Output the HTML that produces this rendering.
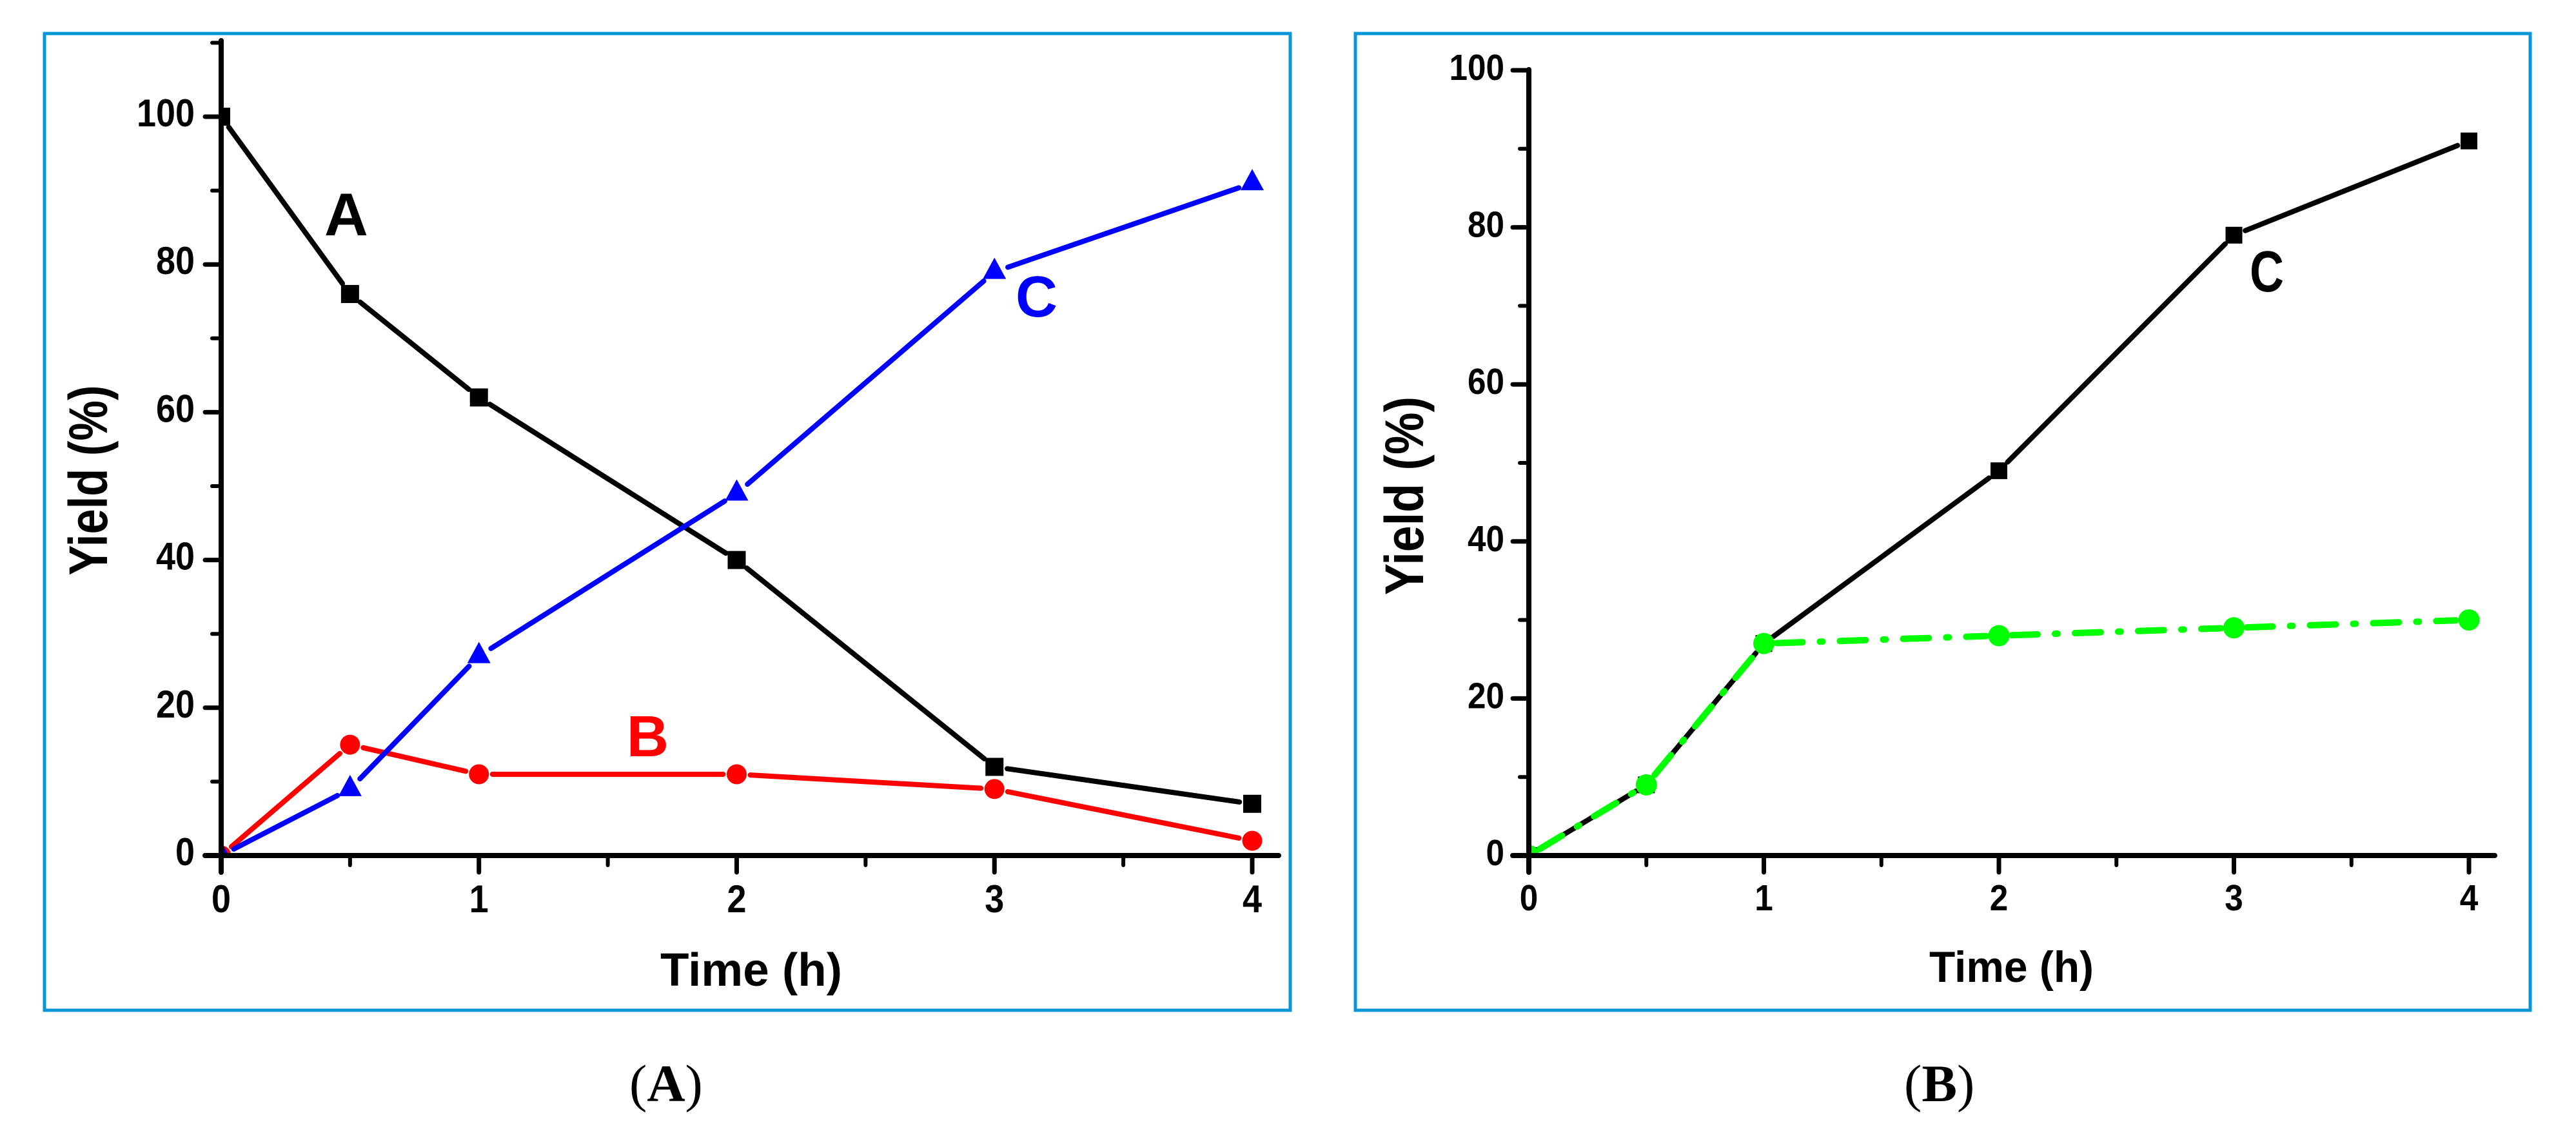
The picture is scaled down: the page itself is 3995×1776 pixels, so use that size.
<!DOCTYPE html>
<html lang="en">
<head>
<meta charset="utf-8">
<title>Yield versus time charts</title>
<style>
  html, body { margin: 0; padding: 0; background: #ffffff; }
  body { width: 3995px; height: 1776px; overflow: hidden; }
  svg { display: block; }
  text { font-family: "Liberation Sans", Arial, sans-serif; }
  .caption { font-family: "Liberation Serif", "Times New Roman", serif; font-size: 82px; fill: #000; }
</style>
</head>
<body>
<svg id="figure" xmlns="http://www.w3.org/2000/svg" width="3995" height="1776" viewBox="0 0 3995 1776">
  <rect x="0" y="0" width="3995" height="1776" fill="#ffffff"/>

  <g id="panel-a">
    <rect x="69" y="52" width="1932" height="1515" fill="#ffffff" stroke="#0896d6" stroke-width="5"/>
    <text transform="translate(166 745) rotate(-90)" text-anchor="middle" font-size="84" font-weight="700" textLength="295" lengthAdjust="spacingAndGlyphs" fill="#000">Yield (%)</text>
    <text x="1024" y="1529" font-size="72" font-weight="700" textLength="282" lengthAdjust="spacingAndGlyphs" fill="#000">Time (h)</text>
    <text x="503" y="365" font-size="94" font-weight="700" fill="#000000">A</text>
    <text x="972" y="1173" font-size="90" font-weight="700" fill="#ff0000">B</text>
    <text x="1575" y="491" font-size="90" font-weight="700" fill="#0000ff">C</text>
    <text class="caption" x="976" y="1708">(<tspan font-weight="700">A</tspan>)</text>
  </g>

  <g id="panel-b">
    <rect x="2102" y="52" width="1822" height="1515" fill="#ffffff" stroke="#0896d6" stroke-width="5"/>
    <text transform="translate(2207 769) rotate(-90)" text-anchor="middle" font-size="84" font-weight="700" textLength="308" lengthAdjust="spacingAndGlyphs" fill="#000">Yield (%)</text>
    <text x="2992" y="1523" font-size="68" font-weight="700" textLength="255" lengthAdjust="spacingAndGlyphs" fill="#000">Time (h)</text>
    <text x="3489" y="452" font-size="90" font-weight="700" textLength="53" lengthAdjust="spacingAndGlyphs" fill="#000000">C</text>
    <text class="caption" x="2953" y="1708">(<tspan font-weight="700">B</tspan>)</text>
  </g>
</svg>

<script>
// Chart data
const times = [0, 0.5, 1, 2, 3, 4];
const panelASeriesA = [100, 76, 62, 40, 12, 7];
const panelASeriesB = [0, 15, 11, 11, 9, 2];
const panelASeriesC = [0, 9, 27, 49, 79, 91];
const panelBSeriesC = [0, 9, 27, 49, 79, 91];
const panelBSeriesGreen = [0, 9, 27, 28, 29, 30];
const xMajorTicks = [0, 1, 2, 3, 4];
const xMinorTicks = [0.5, 1.5, 2.5, 3.5];
const yMajorTicks = [0, 20, 40, 60, 80, 100];
const panelAYMinorTicks = [10, 30, 50, 70, 90, 110];
const panelBYMinorTicks = [10, 30, 50, 70, 90];

const SVG_NS = 'http://www.w3.org/2000/svg';

function svgEl(tag, attrs, parent) {
  const el = document.createElementNS(SVG_NS, tag);
  Object.keys(attrs).forEach(function (k) { el.setAttribute(k, attrs[k]); });
  parent.appendChild(el);
  return el;
}

function makeAxisFns(left, unitX, zeroY, unitY) {
  return {
    x: function (v) { return left + v * unitX; },
    y: function (v) { return zeroY - v * unitY; }
  };
}

function drawSeries(parent, name, xs, ys, scale, opts) {
  const group = svgEl('g', {}, parent);
  
  
  const gap = opts.gap;
  for (let i = 0; i < xs.length - 1; i++) {
    const x1 = scale.x(xs[i]), y1 = scale.y(ys[i]);
    const x2 = scale.x(xs[i + 1]), y2 = scale.y(ys[i + 1]);
    const len = Math.hypot(x2 - x1, y2 - y1);
    const ux = (x2 - x1) / len, uy = (y2 - y1) / len;
    const attrs = {
      x1: x1 + ux * gap, y1: y1 + uy * gap,
      x2: x2 - ux * gap, y2: y2 - uy * gap,
      stroke: opts.color, 'stroke-width': opts.width, 'stroke-linecap': 'round', fill: 'none'
    };
    if (opts.dash) { attrs['stroke-dasharray'] = opts.dash; }
    const seg = svgEl('line', attrs, group);
    
    
  }
  for (let i = 0; i < xs.length; i++) {
    const cx = scale.x(xs[i]), cy = scale.y(ys[i]);
    const s = opts.size;
    let mark;
    if (opts.marker === 'square') {
      mark = svgEl('rect', { x: cx - s / 2, y: cy - s / 2, width: s, height: s, fill: opts.color }, group);
    } else if (opts.marker === 'circle') {
      mark = svgEl('circle', { cx: cx, cy: cy, r: s / 2, fill: opts.color }, group);
    } else {
      const pts = [[cx, cy - 22], [cx + 18, cy + 11], [cx - 18, cy + 11]].map(function (p) { return p.join(','); }).join(' ');
      mark = svgEl('polygon', { points: pts, fill: opts.color }, group);
    }
    
    
  }
}

function drawAxes(parent, prefix, scale, a) {
  const axisStyle = { stroke: '#000', 'stroke-linecap': 'round' };
  const yLine = svgEl('line', Object.assign({ x1: scale.x(0), x2: scale.x(0), y1: a.yTop, y2: a.tickBottom, 'stroke-width': 8 }, axisStyle), parent);
  
  
  const xLine = svgEl('line', Object.assign({ x1: scale.x(0) - 25, x2: a.xEnd, y1: scale.y(0), y2: scale.y(0), 'stroke-width': 8 }, axisStyle), parent);
  
  

  xMajorTicks.forEach(function (v) {
    const t = svgEl('line', Object.assign({ x1: scale.x(v), x2: scale.x(v), y1: scale.y(0), y2: a.tickBottom, 'stroke-width': 7 }, axisStyle), parent);
    
    
    const lbl = svgEl('text', { x: scale.x(v), y: a.xLabelY, 'text-anchor': 'middle', 'font-size': a.fontSize, 'font-weight': 700, fill: '#000', textLength: a.charWidth, lengthAdjust: 'spacingAndGlyphs' }, parent);
    lbl.textContent = String(v);
    
    
  });
  xMinorTicks.forEach(function (v) {
    const t = svgEl('line', Object.assign({ x1: scale.x(v), x2: scale.x(v), y1: scale.y(0), y2: scale.y(0) + 15, 'stroke-width': 6 }, axisStyle), parent);
    
    
  });
  yMajorTicks.forEach(function (v) {
    const t = svgEl('line', Object.assign({ x1: scale.x(0) - 25, x2: scale.x(0), y1: scale.y(v), y2: scale.y(v), 'stroke-width': 7 }, axisStyle), parent);
    
    
    const s = String(v);
    const lbl = svgEl('text', { x: a.yLabelX, y: scale.y(v) + 15, 'text-anchor': 'end', 'font-size': a.fontSize, 'font-weight': 700, fill: '#000', textLength: s.length * a.charWidth, lengthAdjust: 'spacingAndGlyphs' }, parent);
    lbl.textContent = s;
    
    
  });
  a.minor.forEach(function (v) {
    const t = svgEl('line', Object.assign({ x1: scale.x(0) - 14, x2: scale.x(0), y1: scale.y(v), y2: scale.y(v), 'stroke-width': 6 }, axisStyle), parent);
    
    
  });
}

function addClip(svg, id, scale, width) {
  const defs = svgEl('defs', {}, svg);
  const clip = svgEl('clipPath', { id: id }, defs);
  svgEl('rect', { x: scale.x(0), y: 0, width: width, height: scale.y(0) }, clip);
}

const svgRoot = document.getElementById('figure');
const panelA = document.getElementById('panel-a');
const panelB = document.getElementById('panel-b');

// Panel A
const scaleA = makeAxisFns(343, 399.75, 1327, 11.46);
addClip(svgRoot, 'clip-a', scaleA, 1700);
const marksA = svgEl('g', { 'clip-path': 'url(#clip-a)' }, panelA);


drawSeries(marksA, 'series-a', times, panelASeriesA, scaleA, { color: '#000000', width: 8, gap: 20, marker: 'square', size: 28 });
drawSeries(marksA, 'series-b', times, panelASeriesB, scaleA, { color: '#ff0000', width: 8, gap: 21, marker: 'circle', size: 31 });
drawSeries(marksA, 'series-c', times, panelASeriesC, scaleA, { color: '#0000ff', width: 8, gap: 22, marker: 'triangle', size: 36 });
drawAxes(panelA, 'panel-a', scaleA, { yTop: 63, tickBottom: 1353, xEnd: 1983, xLabelY: 1415, yLabelX: 302, fontSize: 60, charWidth: 30, minor: panelAYMinorTicks });

// Panel B
const scaleB = makeAxisFns(2371, 364.5, 1327, 12.18);
addClip(svgRoot, 'clip-b', scaleB, 1540);
const marksB = svgEl('g', { 'clip-path': 'url(#clip-b)' }, panelB);


drawSeries(marksB, 'series-c-black', times, panelBSeriesC, scaleB, { color: '#000000', width: 8, gap: 19, marker: 'square', size: 26 });
drawSeries(marksB, 'series-green', times, panelBSeriesGreen, scaleB, { color: '#00ff00', width: 10, gap: 20, marker: 'circle', size: 33, dash: '40 27 4 27' });
drawAxes(panelB, 'panel-b', scaleB, { yTop: 108, tickBottom: 1353, xEnd: 3869, xLabelY: 1412, yLabelX: 2333, fontSize: 57, charWidth: 28.5, minor: panelBYMinorTicks });
</script>
</body>
</html>
